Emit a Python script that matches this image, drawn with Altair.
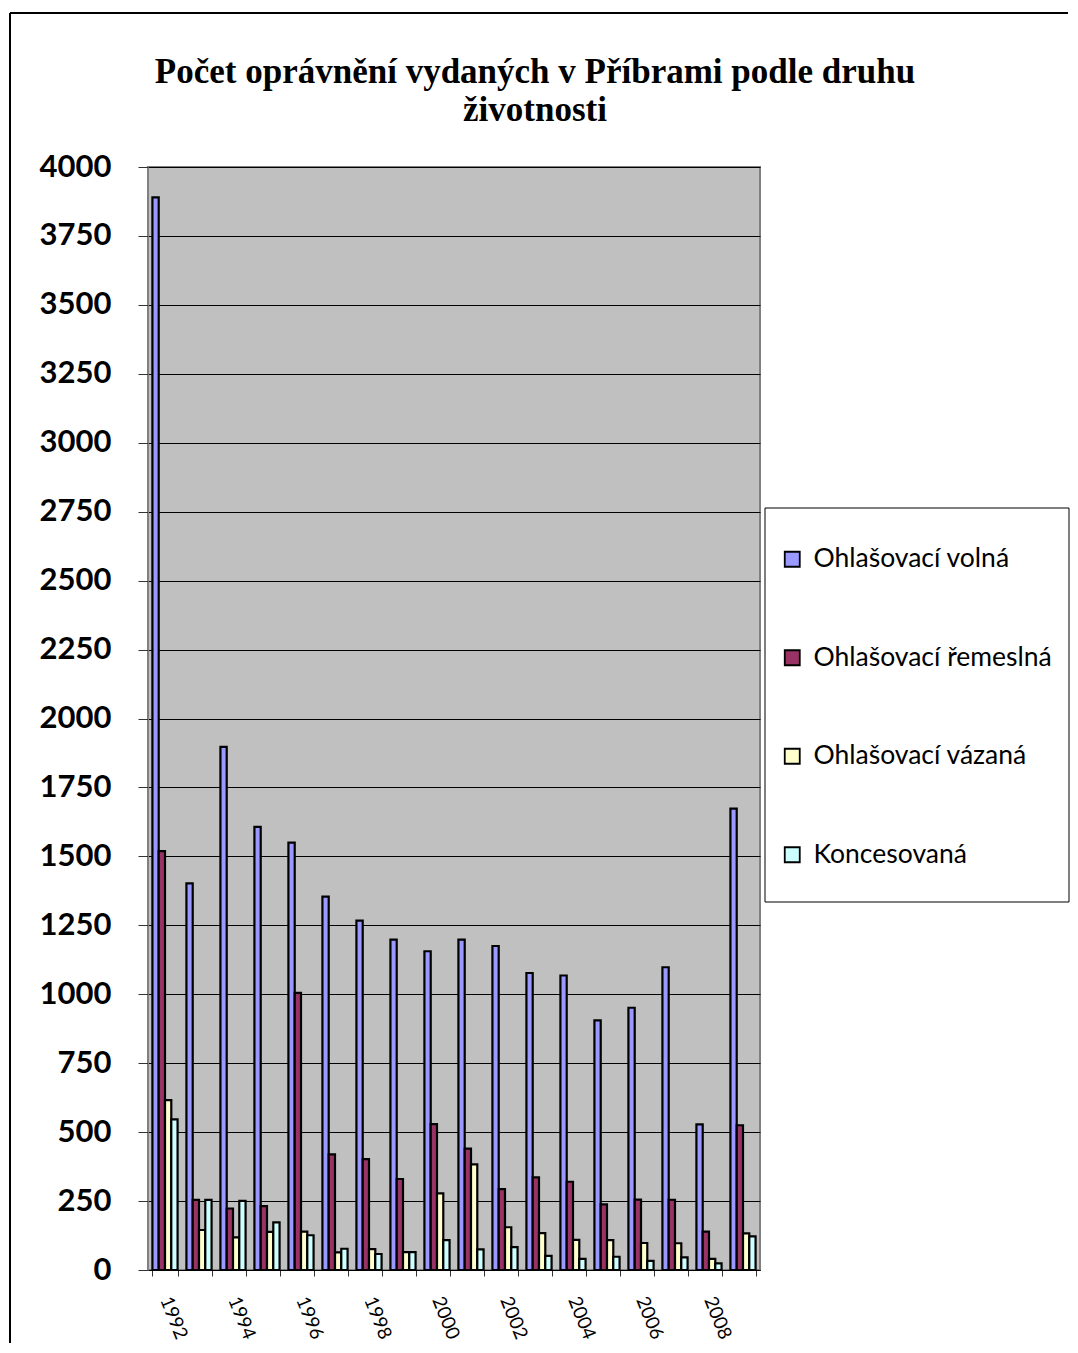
import altair as alt
import pandas as pd

years = [str(y) for y in range(1992, 2010)]
volna = [3890, 1402, 1897, 1607, 1550, 1354, 1267, 1198, 1156, 1198, 1175, 1077, 1068, 905, 951, 1098, 528, 1673]
remeslna = [1519, 254, 223, 232, 1005, 419, 402, 330, 529, 440, 293, 336, 320, 238, 255, 254, 139, 525]
vazana = [616, 145, 118, 138, 139, 64, 76, 65, 278, 383, 155, 134, 109, 108, 98, 97, 40, 133]
koncesovana = [546, 254, 251, 173, 126, 77, 58, 65, 108, 75, 83, 51, 40, 48, 33, 46, 24, 122]
series = ["Ohlašovací volná", "Ohlašovací řemeslná", "Ohlašovací vázaná", "Koncesovaná"]
colors = ["#9999FF", "#993366", "#FFFFCC", "#CCFFFF"]
y_ticks = list(range(0, 4001, 250))
title_lines = ["Počet oprávnění vydaných v Příbrami podle druhu", "životnosti"]

rows = []
for name, vals in zip(series, [volna, remeslna, vazana, koncesovana]):
    for yr, v in zip(years, vals):
        rows.append({"year": yr, "series": name, "value": v})
df = pd.DataFrame(rows)
one = pd.DataFrame({"a": [0]})

bars = alt.Chart(df).mark_bar(stroke="black", strokeWidth=2.2).encode(
    x=alt.X(
        "year:N", sort=years,
        scale=alt.Scale(paddingInner=0.26, paddingOuter=0.13),
        axis=alt.Axis(
            title=None,
            labelExpr="toNumber(datum.value) % 2 == 0 ? datum.label : ''",
            labelAngle=68, labelAlign="left", labelBaseline="middle",
            labelFont="Lato", labelFontSize=19, labelColor="black",
            tickBand="extent", tickSize=6, tickColor="#333333",
            domainColor="#000000", labelPadding=21,
        ),
    ),
    xOffset=alt.XOffset("series:N", sort=series, scale=alt.Scale(paddingInner=0, paddingOuter=0)),
    y=alt.Y(
        "value:Q",
        scale=alt.Scale(domain=[0, 4000], nice=False),
        axis=alt.Axis(
            title=None, values=y_ticks, format="d",
            labelFont="Lato", labelFontWeight="bold", labelFontSize=31, labelColor="black",
            tickSize=10, tickColor="#333333", labelPadding=27,
            gridColor="#000000", gridWidth=1, domainColor="#808080",
        ),
    ),
    color=alt.Color(
        "series:N", sort=series,
        scale=alt.Scale(domain=series, range=colors),
        legend=alt.Legend(
            title=None, orient="none", legendX=631, legendY=379,
            labelFont="Lato", labelFontSize=26.5, labelColor="black", labelLimit=0,
            symbolType="square", symbolSize=225, symbolStrokeColor="black",
            symbolStrokeWidth=1.8, symbolOpacity=1, labelOffset=8, rowPadding=71.5,
        ),
    ),
)

legend_box = alt.Chart(one).mark_rect(fill="white", stroke="black", strokeWidth=1).encode(
    x=alt.value(617), x2=alt.value(921), y=alt.value(341), y2=alt.value(735)
)
frame_left = alt.Chart(one).mark_rule(color="black", strokeWidth=2).encode(
    x=alt.value(-138), y=alt.value(-154), y2=alt.value(1176)
)
frame_top = alt.Chart(one).mark_rule(color="black", strokeWidth=2).encode(
    x=alt.value(-138), x2=alt.value(920), y=alt.value(-154)
)
title = alt.Chart(one).mark_text(
    text=title_lines, font="Liberation Serif", fontSize=35, fontWeight="bold",
    color="black", align="center", baseline="alphabetic", lineHeight=38,
).encode(x=alt.value(387), y=alt.value(-84))

chart = alt.layer(frame_left, frame_top, title, legend_box, bars).properties(
    width=612, height=1103,
    padding={"left": 1, "top": 4, "right": 0, "bottom": 0},
).configure(
    background="white"
).configure_view(
    fill="#C0C0C0", stroke="#808080", strokeWidth=2
)

chart.save("out.html", embed_options={"renderer": "svg", "actions": False})
